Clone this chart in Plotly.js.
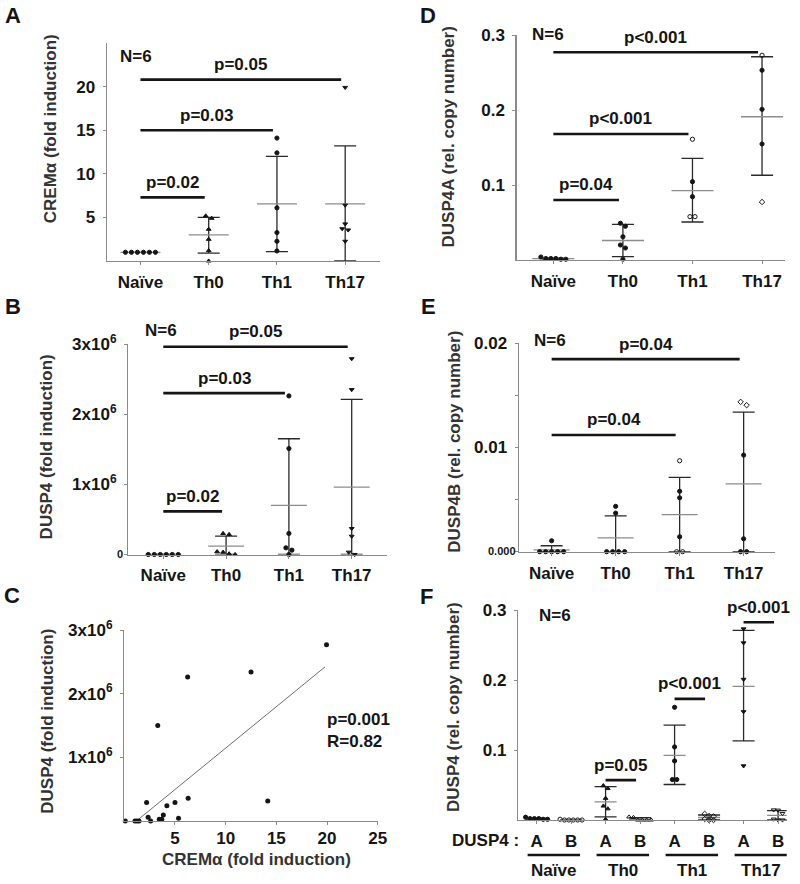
<!DOCTYPE html>
<html><head><meta charset="utf-8">
<script src="https://cdn.plot.ly/plotly-3.0.1.min.js"></script>
<style>html,body{margin:0;padding:0;background:#fff}#chart{width:800px;height:884px}</style>
</head><body><div id="chart"></div>
<script>
// ---------------- DATA ----------------
const groups = ['Naïve', 'Th0', 'Th1', 'Th17'];

// Panel A: CREMα (fold induction)
const cremNaive = [1, 1, 1, 1, 1, 1];
const cremTh0 = [5.17, 4.9, 3.64, 2.49, 1.19, 0];
const cremTh1 = [14.1, 12.4, 6.1, 3.26, 2.26, 1.15];
const cremTh17 = [19.9, 6.4, 4.25, 3.7, 3.56, 2.26];
const cremMean = [1.0, 2.99, 6.55, 6.55];
const cremHi = [1.0, 5.0, 12.0, 13.2];
const cremLo = [1.0, 0.9, 1.07, 0.0];
const cremTicks = [5, 10, 15, 20];
const cremSigTo = [1, 2, 3];
const cremSigY = [7.3, 15.0, 20.8];
const cremSigText = ['p=0.02', 'p=0.03', 'p=0.05'];

// Panel B: DUSP4 (fold induction)
const duspNaive = [0, 0, 0, 0, 0, 0];
const duspTh0 = [0.30e6, 0.286e6, 0.04e6, 0.033e6, 0.01e6, 0];
const duspTh1 = [2.26e6, 1.51e6, 0.30e6, 0.095e6, 0.062e6, 0];
const duspTh17 = [2.79e6, 2.35e6, 0.37e6, 0.26e6, 0.033e6, 0];
const duspMean = [0, 0.119e6, 0.70e6, 0.96e6];
const duspHi = [0, 0.262e6, 1.65e6, 2.21e6];
const duspLo = [0, 0, 0, 0];
const duspTicks = [1e6, 2e6, 3e6];
const duspTickText = ['1x10<sup>6</sup>', '2x10<sup>6</sup>', '3x10<sup>6</sup>'];
const duspSigTo = [1, 2, 3];
const duspSigY = [0.614e6, 2.30e6, 2.96e6];
const duspSigText = ['p=0.02', 'p=0.03', 'p=0.05'];

// Panel C: correlation CREMα vs DUSP4
const corrCrem = [0.1, 1.05, 1.25, 1.45, 2.2, 2.35, 2.6, 3.45, 3.7, 3.85, 4.2, 5.0, 5.35, 6.3, 14.15, 3.3, 6.25, 12.5, 19.95];
const corrDusp = [0, 0, 0, 0, 0.29e6, 0.058e6, 0, 0.027e6, 0.027e6, 0.095e6, 0.24e6, 0.29e6, 0.042e6, 0.357e6, 0.315e6, 1.5e6, 2.26e6, 2.34e6, 2.77e6];
const fitCrem = [1.2, 19.8];
const fitDusp = [0, 2.42e6];
const corrXTicks = [5, 10, 15, 20, 25];

// Panel D: DUSP4A (rel. copy number)
const aNaive = [0.004, 0.002, 0.001, 0.001, 0.002, 0.002];
const aTh0 = [0.049, 0.045, 0.031, 0.020, 0.016, 0.001];
const aTh1 = [0.161, 0.1044, 0.0844, 0.0578, 0.0578];
const aTh17 = [0.273, 0.253, 0.2009, 0.1547, 0.0773];
const aMean = [0.0018, 0.026, 0.0924, 0.191];
const aHi = [0.0025, 0.0476, 0.1356, 0.271];
const aLo = [0.001, 0.0044, 0.0507, 0.113];
const aTicks = [0.1, 0.2, 0.3];
const aSigTo = [1, 2, 3];
const aSigY = [0.080, 0.168, 0.277];
const aSigText = ['p=0.04', 'p&lt;0.001', 'p&lt;0.001'];

// Panel E: DUSP4B (rel. copy number)
const bNaive = [0.00105, 0, 0, 0, 0, 0];
const bTh0 = [0.00435, 0.0037, 0, 0, 0, 0];
const bTh1 = [0.00873, 0.0058, 0.00517, 0.00143, 0, 0];
const bTh17 = [0.01438, 0.01406, 0.00927, 0.00124, 0, 0];
const bMean = [0.00017, 0.00133, 0.00356, 0.0065];
const bHi = [0.00057, 0.00343, 0.00714, 0.0134];
const bLo = [0, 0, 0, 0];
const bTicks = [0.005, 0.01, 0.015, 0.02];
const bTickText = ['', '0.01', '', '0.02'];
const bSigTo = [2, 3];
const bSigY = [0.0112, 0.01848];
const bSigText = ['p=0.04', 'p=0.04'];

// Panel F: DUSP4 A vs B per subset
const isoLabels = ['A', 'B'];
const fTicks = [0.1, 0.2, 0.3];
const fSigY = [0.057, 0.173, 0.2824];
const fSigText = ['p=0.05', 'p&lt;0.001', 'p&lt;0.001'];
const fSigGroup = [1, 2, 3];

// ---------------- LAYOUT HELPERS ----------------
const W = 800, H = 884;
const FONT = 'Liberation Sans, Arial, sans-serif';
const INK = '#151515';
const AXC = '#8a8a8a';
const P = {
  A: {xa: 'x',  ya: 'y',  xd: [107, 380],     yd: [43, 261],      xr: [-0.49, 3.51],   yr: [0, 25]},
  D: {xa: 'x2', ya: 'y2', xd: [516.7, 785],   yd: [35, 260],      xr: [-0.527, 3.33],  yr: [0, 0.3]},
  B: {xa: 'x3', ya: 'y3', xd: [128.3, 386.7], yd: [344, 554.5],   xr: [-0.557, 3.557], yr: [0, 3e6]},
  E: {xa: 'x4', ya: 'y4', xd: [519, 775],     yd: [343.3, 551.7], xr: [-0.51, 3.49],   yr: [0, 0.02]},
  C: {xa: 'x5', ya: 'y5', xd: [124.3, 377.7], yd: [630, 821],     xr: [0, 25],         yr: [0, 3e6]},
  F: {xa: 'x6', ya: 'y6', xd: [518.3, 786.7], yd: [610, 820],     xr: [-0.53, 7.25],   yr: [0, 0.3]}
};
const ppuX = p => (p.xd[1] - p.xd[0]) / (p.xr[1] - p.xr[0]);
const ppuY = p => (p.yd[1] - p.yd[0]) / (p.yr[1] - p.yr[0]);
const axName = (id, c) => c + 'axis' + (id.length > 1 ? id.slice(1) : '');

function swarm(vals, center, tol, step) {
  const idx = vals.map((v, i) => i).sort((a, b) => vals[b] - vals[a]);
  const xs = new Array(vals.length);
  let k = 0;
  while (k < idx.length) {
    let j = k;
    while (j + 1 < idx.length && vals[idx[k]] - vals[idx[j + 1]] <= tol) j++;
    const n = j - k + 1;
    for (let m = 0; m < n; m++) xs[idx[k + m]] = center + (m - (n - 1) / 2) * step;
    k = j + 1;
  }
  return xs;
}

const traces = [];
const shapes = [];
const annotations = [];

function pointsTrace(p, vals, center, sym, stepPx) {
  const xs = swarm(vals, center, 4.5 / ppuY(p), stepPx / ppuX(p));
  traces.push({type: 'scatter', mode: 'markers', xaxis: p.xa, yaxis: p.ya, x: xs, y: vals,
    cliponaxis: false, hoverinfo: 'skip',
    marker: {symbol: sym, size: 4.2, color: INK, line: {color: INK, width: 1}}});
}
function statsTrace(p, xs, mean, hi, lo, halfPx) {
  traces.push({type: 'scatter', mode: 'markers', xaxis: p.xa, yaxis: p.ya, x: xs, y: mean,
    cliponaxis: false, hoverinfo: 'skip', marker: {size: 1, color: 'rgba(0,0,0,0)'},
    error_y: {type: 'data', symmetric: false, array: hi.map((h, i) => h - mean[i]),
      arrayminus: mean.map((m, i) => m - lo[i]), color: '#2a2a2a', thickness: 1.3, width: 11},
    error_x: {type: 'constant', value: halfPx / ppuX(p), color: '#8c8c8c', thickness: 1.3, width: 0, copy_ystyle: false}});
}
function sig(p, from, to, yv, txt) {
  const dl = 0 / ppuX(p), dr = 4 / ppuX(p);
  shapes.push({type: 'line', xref: p.xa, yref: p.ya, x0: from + dl, x1: to - dr, y0: yv, y1: yv,
    line: {color: INK, width: 2.6}, layer: 'above'});
  annotations.push({xref: p.xa, yref: p.ya, x: (from + dl + to - dr) / 2, y: yv, yshift: 15,
    text: txt, showarrow: false, xanchor: 'center', yanchor: 'middle',
    font: {family: FONT, size: 17, color: INK, weight: 'bold'}});
}
function txt(text, xpx, ypx, opt) {
  opt = opt || {};
  annotations.push(Object.assign({xref: 'paper', yref: 'paper', x: xpx / W, y: 1 - ypx / H,
    text: text, showarrow: false, xanchor: 'center', yanchor: 'middle',
    font: {family: FONT, size: opt.size || 17, color: opt.color || INK, weight: 'bold'}}, opt.extra || {}));
}
function ytitle(text, xpx, ypx) {
  txt(text, xpx, ypx, {color: '#333', extra: {textangle: -90}});
}

// ---------------- PANEL A ----------------
const symStd = ['circle', 'triangle-up', 'circle', 'triangle-down'];
statsTrace(P.A, [0, 1, 2, 3], cremMean, cremHi, cremLo, 20);
[cremNaive, cremTh0, cremTh1, cremTh17].forEach((v, g) => pointsTrace(P.A, v, g, symStd[g], 6));
cremSigTo.forEach((t, i) => sig(P.A, 0, t, cremSigY[i], cremSigText[i]));

// ---------------- PANEL B ----------------
statsTrace(P.B, [0, 1, 2, 3], duspMean, duspHi, duspLo, 18);
[duspNaive, duspTh0, duspTh1, duspTh17].forEach((v, g) => pointsTrace(P.B, v, g, symStd[g], 6));
duspSigTo.forEach((t, i) => sig(P.B, 0, t, duspSigY[i], duspSigText[i]));

// ---------------- PANEL C ----------------
traces.push({type: 'scatter', mode: 'lines', xaxis: 'x5', yaxis: 'y5', x: fitCrem, y: fitDusp,
  line: {color: '#6e6e6e', width: 1}, hoverinfo: 'skip'});
traces.push({type: 'scatter', mode: 'markers', xaxis: 'x5', yaxis: 'y5', x: corrCrem, y: corrDusp,
  cliponaxis: false, marker: {symbol: 'circle', size: 5, color: INK}, hoverinfo: 'skip'});

// ---------------- PANEL D ----------------
const symD = ['circle', 'circle',
  ['circle-open', 'circle', 'circle', 'circle-open', 'circle-open'],
  ['circle-open', 'circle', 'circle', 'circle', 'diamond-open']];
statsTrace(P.D, [0, 1, 2, 3], aMean, aHi, aLo, 21);
[aNaive, aTh0, aTh1, aTh17].forEach((v, g) => pointsTrace(P.D, v, g, symD[g], 5));
aSigTo.forEach((t, i) => sig(P.D, 0, t, aSigY[i], aSigText[i]));

// ---------------- PANEL E ----------------
const symE = ['circle', 'circle',
  ['circle-open', 'circle', 'circle', 'circle', 'circle-open', 'circle-open'],
  ['diamond-open', 'diamond-open', 'circle', 'circle', 'circle', 'circle']];
statsTrace(P.E, [0, 1, 2, 3], bMean, bHi, bLo, 18);
[bNaive, bTh0, bTh1, bTh17].forEach((v, g) => pointsTrace(P.E, v, g, symE[g], 6));
bSigTo.forEach((t, i) => sig(P.E, 0, t, bSigY[i], bSigText[i]));

// ---------------- PANEL F ----------------
const symFA = ['circle', 'triangle-up', 'circle', 'triangle-down'];
const symFB = ['circle-open', 'triangle-up-open', 'diamond-open', 'triangle-down-open'];
statsTrace(P.F, [0, 2, 4, 6], aMean, aHi, aLo, 11);
statsTrace(P.F, [1, 3, 5, 7], bMean, bHi, bLo, 11);
[aNaive, aTh0, aTh1, aTh17].forEach((v, g) => pointsTrace(P.F, v, 2 * g, symFA[g], 4.4));
[bNaive, bTh0, bTh1, bTh17].forEach((v, g) => pointsTrace(P.F, v, 2 * g + 1, symFB[g], 4.4));
fSigGroup.forEach((g, i) => sig(P.F, 2 * g, 2 * g + 1, fSigY[i], fSigText[i]));
// group underlines + labels
groups.forEach((gName, g) => {
  shapes.push({type: 'line', xref: 'x6', yref: 'paper', x0: 2 * g + 0.5 - 0.76, x1: 2 * g + 0.5 + 0.76,
    y0: 1 - 855 / H, y1: 1 - 855 / H, line: {color: INK, width: 2.4}});
  annotations.push({xref: 'x6', yref: 'paper', x: 2 * g + 0.5, y: 1 - 870 / H, text: gName,
    showarrow: false, xanchor: 'center', yanchor: 'middle',
    font: {family: FONT, size: 17, color: INK, weight: 'bold'}});
});
txt('DUSP4 :', 521, 840, {extra: {xanchor: 'right'}});

// ---------------- TEXT ----------------
txt('A', 12.5, 15, {size: 22}); txt('D', 428, 15.5, {size: 22});
txt('B', 13, 306.7, {size: 22}); txt('E', 428, 306.7, {size: 22});
txt('C', 12, 595.5, {size: 22}); txt('F', 427, 596.5, {size: 22});
ytitle('CREMα (fold induction)', 50, 129.2);
ytitle('DUSP4A (rel. copy number)', 448, 137.5);
ytitle('DUSP4 (fold induction)', 46.7, 446.7);
ytitle('DUSP4B (rel. copy number)', 455, 441.7);
ytitle('DUSP4 (fold induction)', 48, 721.7);
ytitle('DUSP4 (rel. copy number)', 453.3, 706.7);
txt('CREMα (fold induction)', 256.7, 859, {color: '#333'});
txt('N=6', 118, 57, {extra: {xanchor: 'left'}});
txt('N=6', 530, 35, {extra: {xanchor: 'left'}});
txt('N=6', 143, 330, {extra: {xanchor: 'left'}});
txt('N=6', 531.7, 340.7, {extra: {xanchor: 'left'}});
txt('N=6', 536.7, 615, {extra: {xanchor: 'left'}});
txt('p=0.001', 325, 719, {extra: {xanchor: 'left'}});
txt('R=0.82', 325, 741, {extra: {xanchor: 'left'}});
txt('0', 125.5, 554, {size: 11, extra: {xanchor: 'right'}});
txt('0.000', 518, 551, {size: 11, extra: {xanchor: 'right'}});

// ---------------- AXES ----------------
const layout = {width: W, height: H, margin: {l: 0, r: 0, t: 0, b: 0}, showlegend: false,
  paper_bgcolor: '#fff', plot_bgcolor: 'rgba(0,0,0,0)', shapes: shapes, annotations: annotations};
const base = {showline: true, linecolor: AXC, linewidth: 1.4, ticks: 'outside', ticklen: 3,
  tickcolor: AXC, tickwidth: 1, showgrid: false, zeroline: false, fixedrange: true,
  tickfont: {family: FONT, size: 17, color: INK, weight: 'bold'}};
const yTicks = {A: [cremTicks, cremTicks.map(String)], D: [aTicks, aTicks.map(String)],
  B: [[0].concat(duspTicks), [''].concat(duspTickText)], E: [[0].concat(bTicks), [''].concat(bTickText)],
  C: [duspTicks, duspTickText], F: [fTicks, fTicks.map(String)]};
Object.keys(P).forEach(k => {
  const p = P[k];
  const xt = k === 'C' ? [corrXTicks, corrXTicks.map(String)]
    : k === 'F' ? [[0, 1, 2, 3, 4, 5, 6, 7], [0, 1, 2, 3, 4, 5, 6, 7].map(i => isoLabels[i % 2])]
    : [[0, 1, 2, 3], groups];
  layout[axName(p.xa, 'x')] = Object.assign({}, base, {domain: [p.xd[0] / W, p.xd[1] / W],
    range: p.xr, anchor: p.ya, tickmode: 'array', tickvals: xt[0], ticktext: xt[1],
    ticklabelstandoff: k === 'C' ? -2 : 2});
  layout[axName(p.ya, 'y')] = Object.assign({}, base, {domain: [1 - p.yd[1] / H, 1 - p.yd[0] / H],
    range: p.yr, anchor: p.xa, tickmode: 'array', tickvals: yTicks[k][0], ticktext: yTicks[k][1],
    ticklabelstandoff: 4});
});

Plotly.newPlot('chart', traces, layout, {staticPlot: true, displayModeBar: false});
</script></body></html>
